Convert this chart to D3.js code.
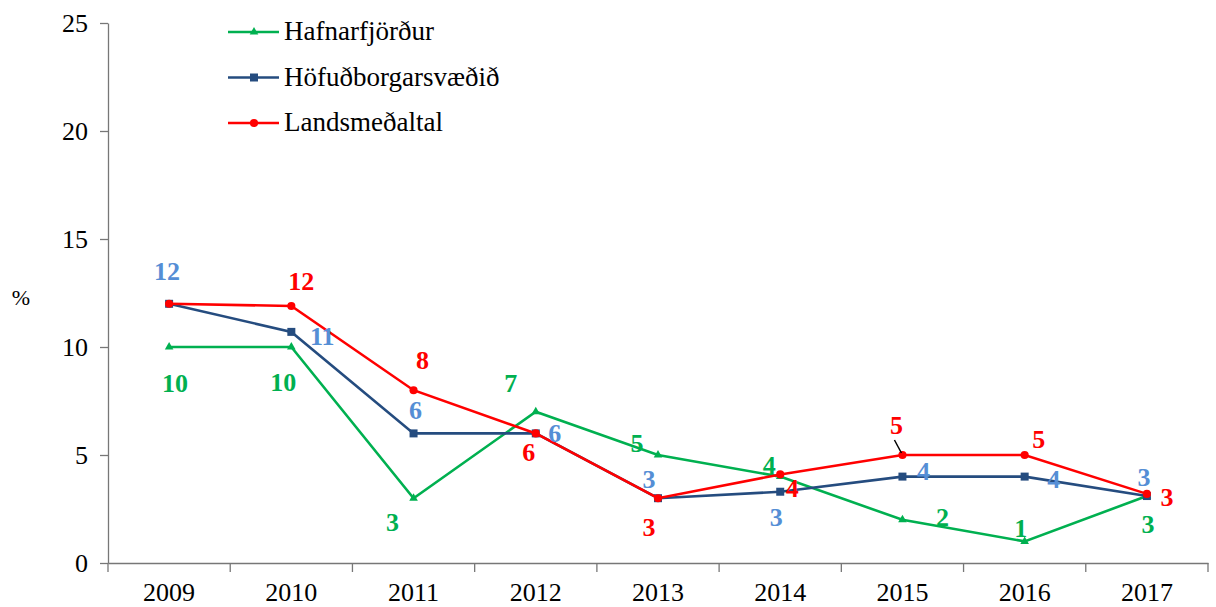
<!DOCTYPE html>
<html>
<head>
<meta charset="utf-8">
<script src="https://cdn.jsdelivr.net/npm/d3@7"></script>
<style>
  body { margin: 0; background: #fff; }
</style>
</head>
<body>
<div id="chart"></div>
<script>
const years = ['2009', '2010', '2011', '2012', '2013', '2014', '2015', '2016', '2017'];
const hafnarfjordur = [10, 10, 3, 7, 5, 4, 2, 1, 3.1];
const hofudborg = [12, 10.7, 6, 6, 3, 3.3, 4, 4, 3.1];
const landsmedaltal = [12, 11.9, 8, 6, 3, 4.1, 5, 5, 3.2];
const hafnarLabels = ['10', '10', '3', '7', '5', '4', '2', '1', '3'];
const hofudLabels = ['12', '11', '6', '6', '3', '3', '4', '4', '3'];
// the 2009 red label sits under the blue one in the original
const landsLabels = ['', '12', '8', '6', '3', '4', '5', '5', '3'];
const yTicks = [0, 5, 10, 15, 20, 25];

// label offsets from the point, in px (as placed in the original)
const hafnarOffsets = [[6, 36], [-8, 35], [-21, 24], [-25, -29], [-21, -12], [-11, -12], [40, -3], [-4, -13], [1, 28]];
const hofudOffsets = [[-2, -33], [31, 4], [2, -23], [19, 0], [-9, -19], [-4, 25], [21, -6], [29, 2], [-3, -19]];
const landsOffsets = [[0, 0], [10, -25], [9, -30], [-7, 19], [-9, 29], [12, 14], [-6, -30], [14, -16], [20, 3]];

const width = 1216;
const height = 607;
const margin = { left: 108, right: 8, top: 23, bottom: 44 };
const font = '"Liberation Serif"';

const green = '#00B050';
const navy = '#254C7F';
const red = '#FF0000';
const lightBlue = '#558ED5';

const svg = d3.select('#chart').append('svg')
  .attr('width', width)
  .attr('height', height);

const x = d3.scaleBand()
  .domain(years)
  .range([margin.left, width - margin.right]);

const y = d3.scaleLinear()
  .domain([0, 25])
  .range([height - margin.bottom, margin.top]);

const cx = i => x(years[i]) + x.bandwidth() / 2;

// y axis
const yAxis = svg.append('g')
  .attr('transform', `translate(${margin.left},0)`)
  .call(d3.axisLeft(y).tickValues(yTicks).tickSize(8).tickSizeOuter(0).tickPadding(12));
yAxis.attr('font-family', null);
yAxis.select('.domain').attr('stroke', '#777').attr('stroke-width', 1.3);
yAxis.selectAll('.tick line').attr('stroke', '#777').attr('stroke-width', 1.3);
yAxis.selectAll('text').attr('font-size', 26).attr('fill', '#000').style('font-family', font);

// x axis with ticks between categories
const xAxis = svg.append('g')
  .attr('transform', `translate(0,${y(0)})`)
  .call(d3.axisBottom(x).tickSize(0).tickPadding(20));
xAxis.attr('font-family', null);
xAxis.select('.domain').attr('stroke', '#777').attr('stroke-width', 1.3);
xAxis.selectAll('text').attr('font-size', 26).attr('fill', '#000').style('font-family', font);
xAxis.selectAll('line.sep')
  .data(d3.range(years.length + 1))
  .enter()
  .append('line')
  .attr('class', 'sep')
  .attr('x1', i => margin.left + i * x.step())
  .attr('x2', i => margin.left + i * x.step())
  .attr('y1', 0)
  .attr('y2', 9)
  .attr('stroke', '#777')
  .attr('stroke-width', 1.3);

svg.append('text')
  .attr('x', 21)
  .attr('y', 305)
  .attr('text-anchor', 'middle')
  .attr('font-size', 22)
  .style('font-family', font)
  .text('%');

const line = d3.line()
  .x((d, i) => cx(i))
  .y(d => y(d));

const series = [
  { name: 'Hafnarfjörður', values: hafnarfjordur, color: green, marker: 'triangle', labels: hafnarLabels, offsets: hafnarOffsets, labelColor: green },
  { name: 'Höfuðborgarsvæðið', values: hofudborg, color: navy, marker: 'square', labels: hofudLabels, offsets: hofudOffsets, labelColor: lightBlue },
  { name: 'Landsmeðaltal', values: landsmedaltal, color: red, marker: 'circle', labels: landsLabels, offsets: landsOffsets, labelColor: red }
];

const symbolFor = {
  triangle: d3.symbol().type(d3.symbolTriangle).size(32),
  square: d3.symbol().type(d3.symbolSquare).size(64),
  circle: d3.symbol().type(d3.symbolCircle).size(52)
};

series.forEach(s => {
  svg.append('path')
    .datum(s.values)
    .attr('d', line)
    .attr('fill', 'none')
    .attr('stroke', s.color)
    .attr('stroke-width', 2.6);

  svg.selectAll(null)
    .data(s.values)
    .enter()
    .append('path')
    .attr('d', symbolFor[s.marker])
    .attr('transform', (d, i) => `translate(${cx(i)},${y(d)})`)
    .attr('fill', s.color);
});

// data labels
series.forEach(s => {
  svg.selectAll(null)
    .data(s.values)
    .enter()
    .append('text')
    .attr('x', (d, i) => cx(i) + s.offsets[i][0])
    .attr('y', (d, i) => y(d) + s.offsets[i][1] + 9)
    .attr('text-anchor', 'middle')
    .attr('font-size', 26)
    .attr('font-weight', 'bold')
    .attr('fill', s.labelColor)
    .style('font-family', font)
    .text((d, i) => s.labels[i]);
});

// leader line for the 2015 red label
svg.append('line')
  .attr('x1', cx(6) - 8)
  .attr('y1', y(landsmedaltal[6]) - 15)
  .attr('x2', cx(6) - 1)
  .attr('y2', y(landsmedaltal[6]) - 2)
  .attr('stroke', '#000')
  .attr('stroke-width', 1.5);

// legend
const legend = svg.append('g').attr('transform', 'translate(228,32)');
series.forEach((s, i) => {
  const g = legend.append('g').attr('transform', `translate(0,${i * 45.5})`);
  g.append('line')
    .attr('x1', 0).attr('x2', 51)
    .attr('y1', 0).attr('y2', 0)
    .attr('stroke', s.color)
    .attr('stroke-width', 2.6);
  g.append('path')
    .attr('d', symbolFor[s.marker])
    .attr('transform', 'translate(26,0)')
    .attr('fill', s.color);
  g.append('text')
    .attr('x', 56)
    .attr('y', 8)
    .attr('font-size', 27)
    .style('font-family', font)
    .text(s.name);
});
</script>
</body>
</html>
